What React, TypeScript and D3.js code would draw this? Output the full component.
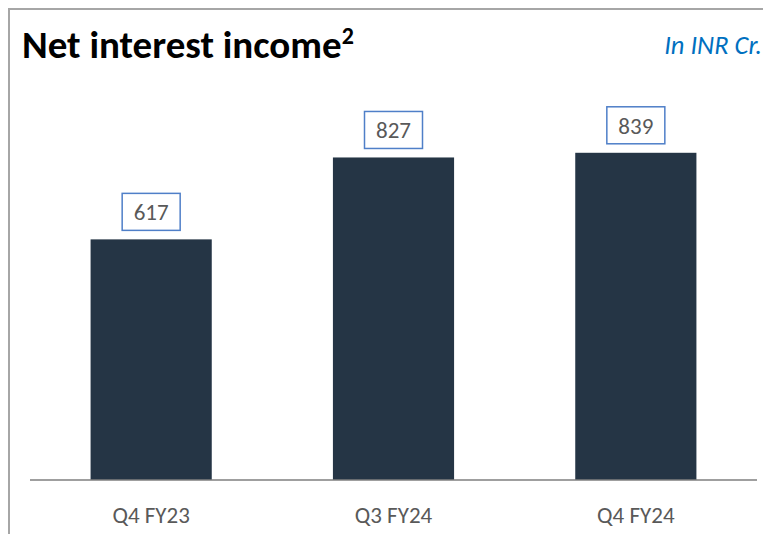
import React, { useEffect, useRef } from 'react';
import * as d3 from 'd3';

const categories = ['Q4 FY23', 'Q3 FY24', 'Q4 FY24'];
const values = [617, 827, 839];

export default function App() {
  const svgRef = useRef<SVGSVGElement | null>(null);

  useEffect(() => {
    if (!svgRef.current) return;
    const width = 763;
    const height = 526;
    const svg = d3.select(svgRef.current);
    svg.selectAll('*').remove();
    svg.attr('width', width).attr('height', height);

    const font = 'Carlito, Calibri, "Open Sans", sans-serif';

    // frame (top + left)
    svg.append('line').attr('x1', 0).attr('x2', width).attr('y1', 1).attr('y2', 1)
      .attr('stroke', '#a6a6a6').attr('stroke-width', 2);
    svg.append('line').attr('x1', 1).attr('x2', 1).attr('y1', 0).attr('y2', height)
      .attr('stroke', '#a6a6a6').attr('stroke-width', 2);

    // title
    const title = svg.append('text').attr('x', 14).attr('y', 50)
      .attr('fill', '#000').style('font-family', font)
      .style('font-size', '39px').style('font-weight', 700);
    title.append('tspan').text('Net interest income');
    title.append('tspan').attr('dy', -14).style('font-size', '24px').text('2');

    svg.append('text').attr('x', 754).attr('y', 46).attr('text-anchor', 'end')
      .attr('fill', '#0070c0').style('font-family', font).style('font-style', 'italic')
      .style('font-size', '26.5px').text('In INR Cr.');

    const axisY = 472;
    const x = d3.scaleBand<string>().domain(categories).range([22, 749])
      .paddingInner(0.5).paddingOuter(0.25);
    const y = d3.scaleLinear().domain([0, 1000]).range([axisY, axisY - 390]);

    const g = svg.append('g');
    g.selectAll('rect.bar').data(values).enter().append('rect')
      .attr('class', 'bar')
      .attr('x', (d, i) => x(categories[i])!)
      .attr('y', d => y(d))
      .attr('width', x.bandwidth())
      .attr('height', d => y(0) - y(d))
      .attr('fill', '#253545');

    // axis baseline
    svg.append('line').attr('x1', 22).attr('x2', 749).attr('y1', axisY).attr('y2', axisY)
      .attr('stroke', '#7f7f7f').attr('stroke-width', 1.5);

    // category labels
    svg.selectAll('text.cat').data(categories).enter().append('text')
      .attr('class', 'cat')
      .attr('x', d => x(d)! + x.bandwidth() / 2)
      .attr('y', 515)
      .attr('text-anchor', 'middle')
      .attr('fill', '#595959').style('font-family', font).style('font-size', '23px')
      .text(d => d);

    // value labels with boxes
    values.forEach((v, i) => {
      const cx = x(categories[i])! + x.bandwidth() / 2;
      const bottom = y(v) - 9;
      svg.append('rect')
        .attr('x', cx - 29).attr('y', bottom - 37)
        .attr('width', 58).attr('height', 37)
        .attr('fill', '#fff').attr('stroke', '#4f7fc8').attr('stroke-width', 1.5);
      svg.append('text')
        .attr('x', cx).attr('y', bottom - 10)
        .attr('text-anchor', 'middle')
        .attr('fill', '#595959').style('font-family', font).style('font-size', '23px')
        .text(v);
    });
  }, []);

  return <svg ref={svgRef} style={{ display: 'block' }} />;
}
